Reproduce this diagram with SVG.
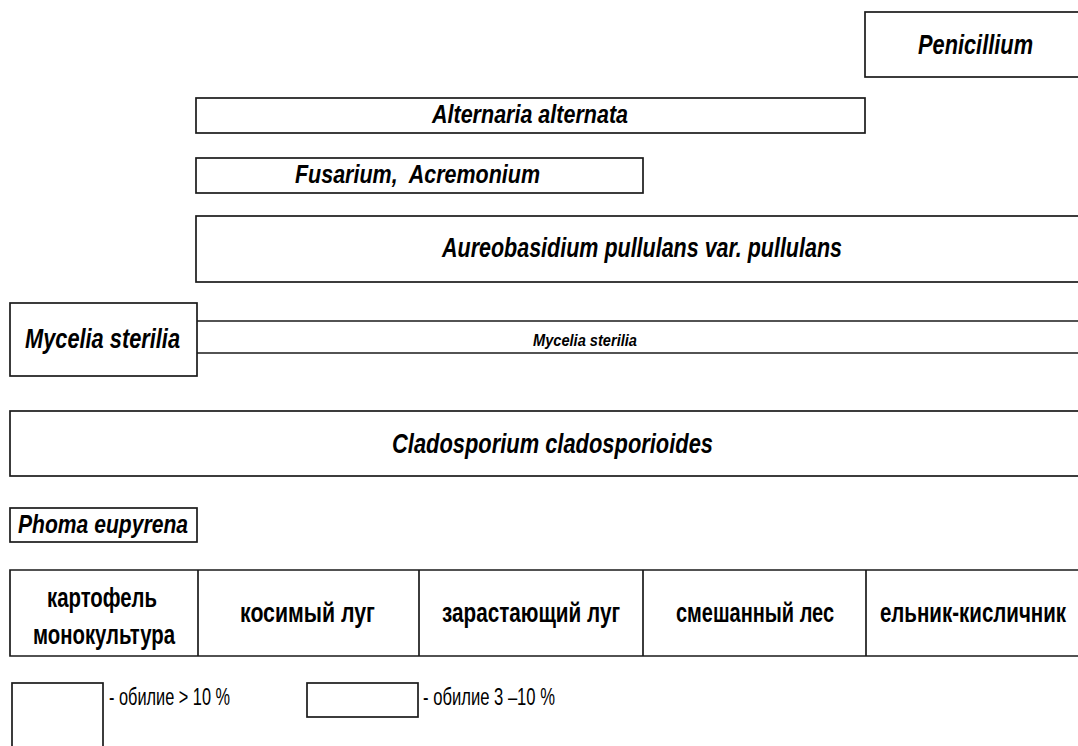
<svg xmlns="http://www.w3.org/2000/svg" width="1078" height="746" viewBox="0 0 1078 746">
<style>
.box{fill:#fff;stroke:#1a1a1a;stroke-width:1.7}
.ln{stroke:#1a1a1a;stroke-width:1.7;fill:none}
.sp{font-family:"Liberation Sans Narrow","Liberation Sans",Arial,sans-serif;font-weight:bold;font-style:italic;fill:#000;white-space:pre}
.hd{font-family:"Liberation Sans Narrow","Liberation Sans",Arial,sans-serif;font-weight:bold;fill:#000;font-size:27px}
.lg{font-family:"Liberation Sans Narrow","Liberation Sans",Arial,sans-serif;fill:#000;font-size:24px}
</style>
<rect width="1078" height="746" fill="#fff"/>
<g id="penicillium">
<rect class="box" x="865" y="12" width="220" height="65"/>
<text class="sp" x="918" y="54" font-size="28" textLength="115" lengthAdjust="spacingAndGlyphs">Penicillium</text>
</g>
<g id="alternaria">
<rect class="box" x="196" y="98" width="669" height="35"/>
<text class="sp" x="432" y="123" font-size="26" textLength="196" lengthAdjust="spacingAndGlyphs">Alternaria alternata</text>
</g>
<g id="fusarium">
<rect class="box" x="196" y="158" width="447" height="35"/>
<text class="sp" x="295" y="183" font-size="26" textLength="245" lengthAdjust="spacingAndGlyphs" xml:space="preserve">Fusarium,  Acremonium</text>
</g>
<g id="aureobasidium">
<rect class="box" x="196" y="216" width="890" height="66"/>
<text class="sp" x="442" y="257" font-size="28" textLength="400" lengthAdjust="spacingAndGlyphs">Aureobasidium pullulans var. pullulans</text>
</g>
<g id="mycelia">
<rect class="box" x="10" y="303" width="187" height="73"/>
<text class="sp" x="25" y="348" font-size="28" textLength="155" lengthAdjust="spacingAndGlyphs">Mycelia sterilia</text>
</g>
<g id="mycelia-band">
<line class="ln" x1="197" y1="321" x2="1078" y2="321"/>
<line class="ln" x1="197" y1="353" x2="1078" y2="353"/>
<text class="sp" x="533" y="346" font-size="16" textLength="104" lengthAdjust="spacingAndGlyphs">Mycelia sterilia</text>
</g>
<g id="cladosporium">
<rect class="box" x="10" y="411" width="1076" height="65"/>
<text class="sp" x="392" y="453" font-size="28" textLength="321" lengthAdjust="spacingAndGlyphs">Cladosporium cladosporioides</text>
</g>
<g id="phoma">
<rect class="box" x="10" y="508" width="187" height="34"/>
<text class="sp" x="18" y="533" font-size="26" textLength="170" lengthAdjust="spacingAndGlyphs">Phoma eupyrena</text>
</g>
<g id="table">
<path class="ln" d="M1078,570 H10 V656 H1078"/>
<line class="ln" x1="198" y1="570" x2="198" y2="656"/>
<line class="ln" x1="419" y1="570" x2="419" y2="656"/>
<line class="ln" x1="643" y1="570" x2="643" y2="656"/>
<line class="ln" x1="866" y1="570" x2="866" y2="656"/>
<text class="hd" x="47" y="607" textLength="110" lengthAdjust="spacingAndGlyphs">картофель</text>
<text class="hd" x="33" y="644" textLength="142" lengthAdjust="spacingAndGlyphs">монокультура</text>
<text class="hd" x="240" y="622" textLength="135" lengthAdjust="spacingAndGlyphs">косимый луг</text>
<text class="hd" x="442" y="622" textLength="178" lengthAdjust="spacingAndGlyphs">зарастающий луг</text>
<text class="hd" x="676" y="622" textLength="158" lengthAdjust="spacingAndGlyphs">смешанный лес</text>
<text class="hd" x="973" y="622" text-anchor="middle" transform="translate(973,0) scale(0.76,1) translate(-973,0)">ельник-кисличник</text>
</g>
<g id="legend">
<rect class="box" x="12" y="683" width="91" height="80"/>
<text class="lg" x="109" y="705" textLength="121" lengthAdjust="spacingAndGlyphs">- обилие &gt; 10 %</text>
<rect class="box" x="307" y="683" width="111" height="34"/>
<text class="lg" x="423" y="705" textLength="132" lengthAdjust="spacingAndGlyphs">- обилие 3 –10 %</text>
</g>
</svg>
